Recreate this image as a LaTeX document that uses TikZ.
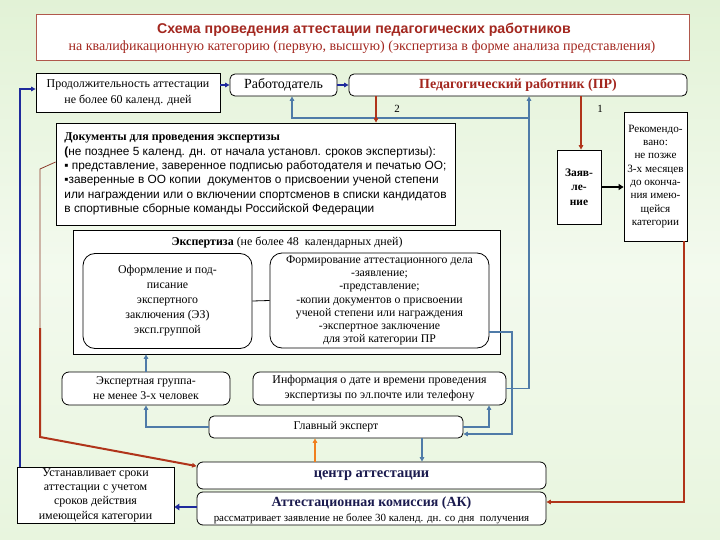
\documentclass[tikz,border=0pt]{standalone}
\usepackage{fontspec}
\setmainfont{Liberation Serif}
\setsansfont{Liberation Sans}
\usetikzlibrary{arrows.meta}
\definecolor{bgtop}{RGB}{226,242,214}
\definecolor{bgmid}{RGB}{243,250,238}
\definecolor{bgbot}{RGB}{232,245,222}
\definecolor{titleborder}{RGB}{176,88,76}
\definecolor{titlered}{RGB}{163,39,31}
\definecolor{steel}{RGB}{79,123,168}
\definecolor{navyln}{RGB}{31,42,156}
\definecolor{rust}{RGB}{176,52,26}
\definecolor{brownln}{RGB}{139,58,42}
\definecolor{orangeln}{RGB}{240,127,30}
\definecolor{navytxt}{RGB}{27,27,79}
\tikzset{
  sqbox/.style={draw=black, line width=0.8bp, fill=white, inner sep=0pt, align=center},
  rdbox/.style={sqbox, rounded corners=5bp},
  tip/.style={-{Triangle[length=4.5bp,width=4.5bp]}},
  steelln/.style={draw=steel, line width=1.1bp},
  navyarr/.style={draw=navyln, line width=1.1bp, tip},
  rustarr/.style={draw=rust, line width=1.8bp, tip},
  lbl/.style={font=\fontsize{11}{13}\selectfont, inner sep=0pt}
}
\begin{document}
\begin{tikzpicture}[x=1bp,y=-1bp]
\shade[top color=bgtop, bottom color=bgbot, middle color=bgmid] (0,0) rectangle (720,540);
\useasboundingbox (0,0) rectangle (720,540);

% coordinates for vertical lines
\coordinate (x2) at (376,0);
\coordinate (x1) at (581,0);
\coordinate (xs) at (529,0);
\coordinate (xr) at (292,0);
\coordinate (xi) at (489,0);
\coordinate (xg) at (422,0);
\coordinate (xo) at (315,0);
\coordinate (xk) at (684,0);
\coordinate (jn) at (529,118);
\coordinate (cf) at (512,434);
\coordinate (rA) at (40,169);
\coordinate (rB) at (40,328);
\coordinate (rC) at (40,437);
\coordinate (bl) at (20,0);

% title
\node[sqbox, draw=titleborder, minimum width=653bp, minimum height=46bp] (title) at (362.5,37) {};
\node[inner sep=0pt, text=titlered, font=\sffamily\bfseries\fontsize{14.2}{16}\selectfont] (t1) at (364,30) {Схема проведения аттестации педагогических работников};
\node[inner sep=0pt, text=titlered, font=\fontsize{14.1}{16}\selectfont] (t2) at (362,47) {на квалификационную категорию (первую, высшую) (экспертиза в форме анализа представления)};

% top row
\node[sqbox, minimum width=184bp, minimum height=39bp, font=\fontsize{12}{16}\selectfont] (prod) at (128,92.5) {Продолжительность аттестации\\не более 60 календ. дней};
\node[rdbox, minimum width=107bp, minimum height=22bp, font=\fontsize{14}{15}\selectfont] (rab) at (283.5,85) {Работодатель};
\node[rdbox, minimum width=338bp, minimum height=22bp, text=titlered, font=\bfseries\fontsize{14}{15}\selectfont] (pr) at (518,85) {Педагогический работник (ПР)};

% documents
\node[sqbox, minimum width=399bp, minimum height=102bp, align=left, font=\fontsize{12}{14.4}\selectfont] (docs) at (255.5,174) {{\bfseries Документы для проведения экспертизы}\\
{\sffamily\fontsize{11.9}{14.4}\selectfont{\bfseries(}не позднее 5 календ. дн. от начала установл. сроков экспертизы):}\\
{\sffamily\fontsize{11.9}{14.4}\selectfont ▪ представление, заверенное подписью работодателя и печатью ОО;}\\
{\sffamily\fontsize{11.9}{14.4}\selectfont ▪заверенные в ОО копии\ \ документов о присвоении ученой степени}\\
{\sffamily\fontsize{11.9}{14.4}\selectfont или награждении или о включении спортсменов в списки кандидатов}\\
{\sffamily\fontsize{11.9}{14.4}\selectfont в спортивные сборные команды Российской Федерации}};

% right side
\node[sqbox, minimum width=44bp, minimum height=74bp, font=\bfseries\fontsize{11.5}{14.5}\selectfont] (zay) at (579,187) {Заяв-\\ле-\\ние};
\node[sqbox, minimum width=63bp, minimum height=129bp, font=\fontsize{11.2}{13.4}\selectfont] (rek) at (655.5,176.5) {Рекомендо-\\вано:\\не позже\\3-х месяцев\\до оконча-\\ния имею-\\щейся\\категории};

% expertise
\node[sqbox, minimum width=427bp, minimum height=124bp] (exp) at (286.5,292) {};
\node[inner sep=0pt, font=\fontsize{12}{13}\selectfont] (expt) at (287,242) {{\bfseries Экспертиза} (не более 48\ \ календарных дней)};
\node[sqbox, rounded corners=12bp, minimum width=169bp, minimum height=95bp, font=\fontsize{11.9}{15}\selectfont] (ofor) at (167.5,301) {Оформление и под-\\писание\\экспертного\\заключения (ЭЗ)\\эксп.группой};
\node[sqbox, rounded corners=12bp, minimum width=219bp, minimum height=95bp, font=\fontsize{11.8}{13.3}\selectfont] (form) at (379.5,300.5) {Формирование аттестационного дела\\-заявление;\\-представление;\\-копии документов о присвоении\\ученой степени или награждения\\-экспертное заключение\\для этой категории ПР};

\node[sqbox, rounded corners=7bp, minimum width=168bp, minimum height=33bp, font=\fontsize{11.9}{15}\selectfont] (grp) at (146,388.5) {Экспертная группа-\\не менее 3-х человек};
\node[sqbox, rounded corners=7bp, minimum width=253bp, minimum height=33bp, font=\fontsize{11.9}{15}\selectfont] (info) at (379.5,388.5) {Информация о дате и времени проведения\\экспертизы по эл.почте или телефону};

\node[rdbox, minimum width=254bp, minimum height=22bp, font=\fontsize{11.9}{12}\selectfont] (glav) at (336,427) {Главный эксперт};
\node[sqbox, rounded corners=6bp, minimum width=349bp, minimum height=27bp, text=navytxt, font=\bfseries\fontsize{14.5}{15}\selectfont] (centr) at (371.5,475.5) {центр аттестации};
\node[sqbox, rounded corners=6bp, minimum width=349bp, minimum height=33bp] (ak) at (371.5,508.5) {};
\node[inner sep=0pt, text=navytxt, font=\bfseries\fontsize{14}{15}\selectfont] (akt) at (371.5,503) {Аттестационная комиссия (АК)};
\node[inner sep=0pt, font=\fontsize{11}{12}\selectfont] (aks) at (371.5,518.5) {рассматривает заявление не более 30 календ. дн. со дня\ \ получения};
\node[sqbox, minimum width=157bp, minimum height=56bp, font=\fontsize{12}{14.3}\selectfont] (ust) at (95.5,495) {Устанавливает сроки\\аттестации с учетом\\сроков действия\\имеющейся категории};

% labels
\node[lbl] (l2) at (397,109) {2};
\node[lbl] (l1) at (600,109) {1};

% connectors: top row
\draw[navyarr] (prod.east |- rab.west) -- (rab.west);
\draw[navyarr] (rab.east) -- (pr.west);
\draw[navyarr] (ust.north -| bl) |- ([yshift=3.5bp]prod.west);

% steel lines
\draw[steelln, tip] (info.east) -| (pr.south -| xs);
\draw[steelln, tip] (jn) -| (rab.south -| xr);
\draw[steelln, tip] ([yshift=-31.5bp]form.east) -| (cf) -- (cf -| glav.east);
\draw[steelln, tip] (glav.east) -| (info.south -| xi);
\draw[steelln, tip] (glav.west) -| (grp.south);
\draw[steelln, tip] (grp.north) -- (grp.north |- exp.south);
\draw[steelln, tip] (glav.south -| xg) -- (centr.north -| xg);
\draw[draw=orangeln, line width=1.8bp, tip] (centr.north -| xo) -- (glav.south -| xo);
\draw[line width=0.8bp] (ofor.east) -- (form.west);

% red lines
\draw[rustarr] (pr.south -| x2) -- (docs.north -| x2);
\draw[rustarr] (pr.south -| x1) -- (zay.north -| x1);
\draw[draw=rust, line width=1.1bp, tip] (rek.south -| xk) |- ([yshift=6.5bp]ak.east);
\draw[draw=brownln, line width=0.8bp] ([yshift=12bp]docs.west) -- (rA) -- (rB);
\draw[draw=rust, line width=2bp, tip] (rB) -- (rC) -- ([yshift=-4.5bp]centr.north west);

% thick arrows
\draw[line width=2.2bp, -{Triangle[length=5bp,width=6bp]}] (zay.east) -- (zay.east -| rek.west);
\draw[draw=navyln, line width=2.6bp, -{Triangle[length=5bp,width=6.5bp]}] ([yshift=1.5bp]ak.west) -- ([yshift=1.5bp]ak.west -| ust.east);
\end{tikzpicture}
\end{document}
